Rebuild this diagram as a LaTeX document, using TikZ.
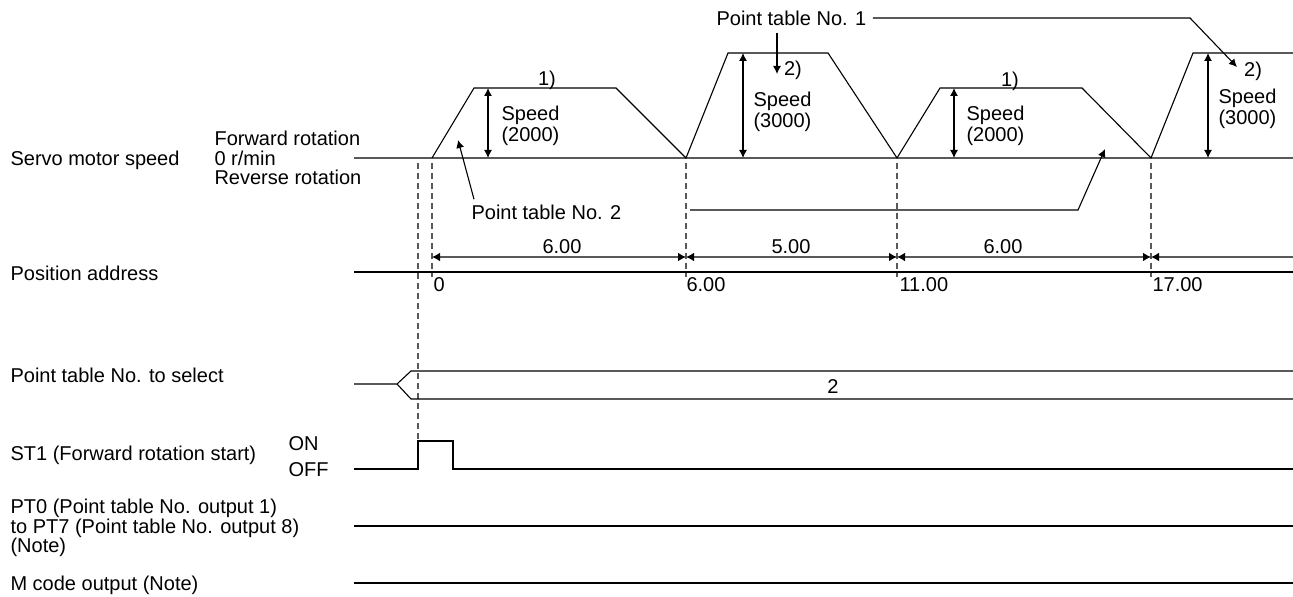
\documentclass[tikz,border=0pt]{standalone}
\usepackage{fontspec}
\setmainfont{Liberation Sans}
\usetikzlibrary{arrows.meta}
\newcommand{\sigfont}{\fontsize{10}{9.8}\selectfont}
\newcommand{\spdfont}{\fontsize{10}{9}\selectfont}

\begin{document}
\begin{tikzpicture}[x=0.5pt, y=-0.5pt, >={Latex[length=4pt,width=4pt]}, line width=0.55pt,
    every node/.style={font=\sigfont, inner sep=0pt},
    lbl/.style={text height=7.2pt, text depth=0pt},
    mlbl/.style={align=left, anchor=west},
    spd/.style={align=left, anchor=west, font=\spdfont},
    guideline/.style={gray!70!black, dash pattern=on 3pt off 2pt},
    zeroline/.style={gray!70!black, line width=0.9pt},
    dimline/.style={gray!70!black, line width=0.7pt, >={Latex[length=4pt,width=4.4pt,color=black]}}]
    \useasboundingbox (0,0) rectangle (1293,597);

    % signal names
    \node[lbl, anchor=west] (servo) at (10,158) {Servo motor speed};
    \node[mlbl] (rot) at (214,158) {Forward rotation\\0 r/min\\Reverse rotation};
    \node[lbl, anchor=west] (posaddr) at (10,273) {Position address};
    \node[lbl, anchor=west] (ptsel) at (10,375) {Point table No. to select};
    \node[lbl, anchor=west] (st1) at (10,453) {ST1 (Forward rotation start)};
    \node[lbl, anchor=west] (on) at (288,443) {ON};
    \node[lbl, anchor=west] (off) at (288,469) {OFF};
    \node[mlbl] (ptout) at (10,528) {PT0 (Point table No. output 1)\\to PT7 (Point table No. output 8)\\(Note)};
    \node[lbl, anchor=west] (mcode) at (10,583) {M code output (Note)};

    % servo motor speed
    \draw[zeroline] (354,158) -- (1293,158);
    \draw (432,158) -- (474,88) -- (616,88) -- (686,158) -- (728,53) -- (828,53) -- (897,158)
        -- (940,88) -- (1082,88) -- (1151,158) -- (1193,53) -- (1293,53);
    \foreach \x/\y in {488/88,743/53,954/88,1208/53}
        \draw[<->] (\x,\y) -- (\x,158);
    \node[spd] (spd1) at (501,126) {Speed\\(2000)};
    \node[spd] (spd2) at (753,112) {Speed\\(3000)};
    \node[spd] (spd3) at (966,126) {Speed\\(2000)};
    \node[spd] (spd4) at (1218,109) {Speed\\(3000)};
    \node[lbl] (one1) at (547,78) {1)};
    \node[lbl] (one2) at (1010,79) {1)};
    \node[lbl] (two1) at (793,68) {2)};
    \node[lbl] (two2) at (1253,69) {2)};

    \node[lbl, anchor=west] (ptone) at (716,18) {Point table No. 1};
    \coordinate (tipa) at (777,74);
    \coordinate (benda) at (1190,18);
    \coordinate (tipb) at (1237,67);
    \draw[->] (ptone.south -| tipa) ++(0,7) -- (tipa);
    \draw[->] ([xshift=3pt]ptone.east) -- (benda) -- (tipb);

    \node[lbl, anchor=west] (pttwo) at (471,212) {Point table No. 2};
    \coordinate (tipc) at (458,140);
    \coordinate (leadd) at (690,210);
    \coordinate (bendd) at (1078,210);
    \coordinate (tipd) at (1105,149);
    \draw[->] ([xshift=1.5pt,yshift=2.5pt]pttwo.north west) -- (tipc);
    \draw[->] (leadd) -- (bendd) -- (tipd);

    % guides
    \draw[guideline] (418,163) -- (418,441);
    \foreach \x in {432,686,897,1151}
        \draw[guideline] (\x,163) -- (\x,277);

    % position address
    \foreach \a/\b in {432/686,686/897,897/1151}
        \draw[dimline, <->] (\a,257) -- (\b,257);
    \draw[dimline, <-] (1151,257) -- (1293,257);
    \node[lbl] (dist1) at (562,246) {6.00};
    \node[lbl] (dist2) at (791,246) {5.00};
    \node[lbl] (dist3) at (1003,246) {6.00};
    \draw (354,272) -- (1293,272);
    \foreach \x/\t in {433/0,686/6.00,899/11.00,1152/17.00}
        \node[lbl, anchor=west] (addr\x) at (\x,284) {\t};

    % point table select
    \draw (354,384) -- (397,384) -- (411,371) -- (1293,371);
    \draw (397,384) -- (411,399) -- (1293,399);
    \node[lbl] (selno) at (833,386) {2};

    % ST1
    \draw (354,469) -- (418,469) -- (418,441) -- (453,441) -- (453,469) -- (1293,469);

    % outputs
    \draw (354,526) -- (1293,526);
    \draw (354,583) -- (1293,583);
\end{tikzpicture}
\end{document}
